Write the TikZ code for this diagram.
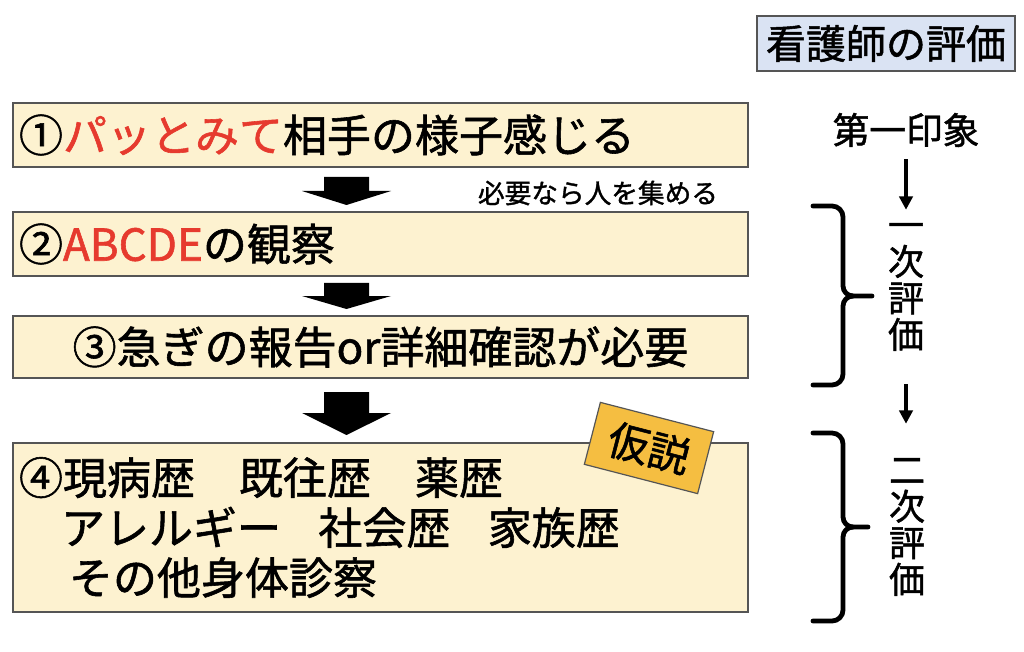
\documentclass[tikz,border=0pt]{standalone}
\usepackage{fontspec}
\setmainfont{Noto Sans CJK JP}[FakeBold=1.3]
\usepackage{tikz}
\usetikzlibrary{arrows.meta}
\definecolor{boxfill}{RGB}{253,242,208}
\definecolor{boxline}{RGB}{85,85,85}
\definecolor{headfill}{RGB}{218,227,243}
\definecolor{hypofill}{RGB}{245,190,65}
\definecolor{redtxt}{RGB}{230,58,46}
\newcommand{\redtxt}[1]{\textcolor{redtxt}{#1}}

\begin{document}
\begin{tikzpicture}[x=0.75pt, y=-0.75pt,
  Box/.style={draw=boxline, fill=boxfill, line width=0.9pt, inner xsep=4.5pt,
    inner ysep=0pt, minimum width=551.25pt, text width=542.25pt,
    font=\fontsize{33}{37.5}\selectfont},
  Arr/.style={-{Triangle[length=10pt, width=10pt]}, line width=2.8pt},
  Brc/.style={line width=3.6pt, line cap=round, line join=round},
  Vert/.style={inner sep=0pt, align=center, minimum height=109.5pt,
    font=\fontsize{27}{27.4}\selectfont}]
  \useasboundingbox (0,0) rectangle (1024,652);
  % left column
  \node [Box, minimum height=48pt, align=left] (B1) at (380.5,135)
    {①\redtxt{パッとみて}相手の様子感じる};
  \node [Box, minimum height=48pt, align=left] (B2) at (380.5,244)
    {②\redtxt{ABCDE}の観察};
  \node [Box, minimum height=46.5pt, align=center] (B3) at (380.5,347)
    {③急ぎの報告or詳細確認が必要};
  \node [Box, minimum height=126.75pt, align=left] (B4) at (380.5,527.5)
    {④現病歴　既往歴　薬歴\\
     \hspace*{31.5pt}アレルギー\hspace{0.85em}社会歴\hspace{0.85em}家族歴\\
     \hspace*{37.5pt}その他身体診察};
  \node [font=\fontsize{20}{24}\selectfont] (Call) at (598,193) {必要なら人を集める};
  \node [draw=boxline, fill=hypofill, line width=0.9pt, rotate=-14.5,
    minimum width=87.75pt, minimum height=48pt,
    font=\fontsize{31}{36}\selectfont] (Hypo) at (649,448) {仮説};
  % block arrows
  \foreach \yt/\yb/\yp in {177/191/205, 283/296/309, 392/413/435}
    \fill (324,\yt) -- (369,\yt) -- (369,\yb) -- (391,\yb) -- (346.5,\yp)
      -- (302,\yb) -- (324,\yb) -- cycle;
  % right column
  \node [draw=boxline, fill=headfill, line width=0.9pt, minimum width=193.5pt,
    minimum height=41.25pt, font=\fontsize{30}{36}\selectfont] (Head)
    at (886,43.5) {看護師の評価};
  \node [inner sep=0pt, font=\fontsize{27.5}{33}\selectfont] (First)
    at (906,130) {第一印象};
  \node [Vert] (Eval1) at (906,287) {一\\次\\評\\価};
  \node [Vert] (Eval2) at (907,527) {二\\次\\評\\価};
  \draw[Arr, shorten <=9pt, shorten >=3pt] (First.south -| Eval1.north) -- (Eval1.north);
  \draw[Arr, shorten <=18pt, shorten >=22.5pt] (Eval1.south) -- (Eval1.south |- Eval2.north);
  % braces
  \draw[Brc] (813,206) -- (832,206) to[out=0, in=90] (843,217) -- (843,286)
    to[out=-90, in=180] (853,296) -- (872,296);
  \draw[Brc] (813,385) -- (832,385) to[out=0, in=-90] (843,374) -- (843,306)
    to[out=90, in=180] (853,296);
  \draw[Brc] (813,433) -- (832,433) to[out=0, in=90] (843,444) -- (843,517)
    to[out=-90, in=180] (853,527) -- (868,527);
  \draw[Brc] (813,621) -- (832,621) to[out=0, in=-90] (843,610) -- (843,537)
    to[out=90, in=180] (853,527);
\end{tikzpicture}
\end{document}
